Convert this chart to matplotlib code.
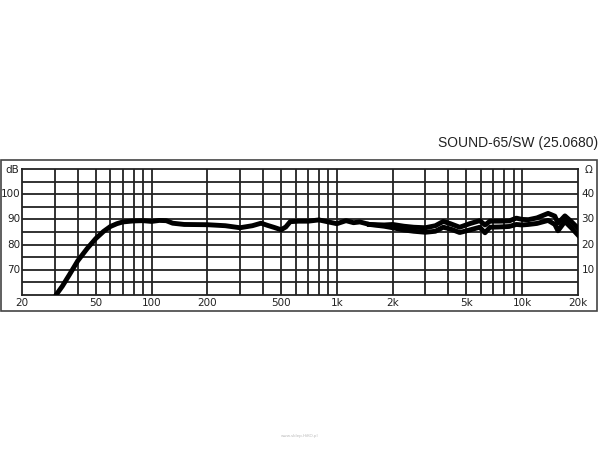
import numpy as np
import matplotlib
matplotlib.use("Agg")
import matplotlib.pyplot as plt
from matplotlib.patches import Rectangle

# frequency response, shared part (Hz / dB)
freq_low = [30.5, 33, 36, 40, 45, 50, 55, 60, 65, 70, 80, 90, 100, 110, 120, 130,
            150, 200, 250, 300, 350, 390, 420, 460, 500, 530, 560, 620, 700, 800,
            900, 1000, 1120, 1230, 1330, 1500]
spl_low = [60, 63.5, 68, 73.6, 78.5, 82.4, 85.2, 87.2, 88.3, 89.0, 89.4, 89.5, 89.2,
           89.6, 89.5, 88.5, 88.0, 87.9, 87.5, 86.7, 87.5, 88.5, 87.7, 86.8, 85.9,
           87.0, 89.1, 89.3, 89.3, 89.8, 89.0, 88.3, 89.5, 88.7, 89.0, 88.0]

# high range, two curves
freq_hi = [1500, 1800, 2000, 2300, 2600, 3000, 3400, 3750, 4100, 4600, 5200, 5900,
           6300, 6700, 7500, 8500, 9300, 10000, 10800, 12000, 13800, 15000, 15600,
           17000, 18500, 20000]
spl_upper = [88.0, 87.8, 88.0, 87.3, 86.9, 86.7, 87.5, 89.2, 88.3, 86.9, 88.3, 89.5,
             87.8, 89.3, 89.3, 89.4, 90.5, 90.0, 89.9, 90.6, 92.4, 91.3, 88.5, 91.4,
             89.0, 86.5]
spl_lower = [88.0, 87.3, 86.7, 85.8, 85.3, 84.9, 85.3, 86.9, 86.2, 84.8, 85.8, 86.9,
             84.7, 86.9, 87.0, 87.2, 88.0, 87.8, 88.0, 88.4, 89.6, 88.0, 85.5, 89.2,
             86.5, 83.8]

x_ticks = [20, 50, 100, 200, 500, 1000, 2000, 5000, 10000, 20000]
x_labels = ["20", "50", "100", "200", "500", "1k", "2k", "5k", "10k", "20k"]
db_ticks = [70, 80, 90, 100]
ohm_ticks = [10, 20, 30, 40]

fig = plt.figure(figsize=(6, 4.5), dpi=100)
ax = fig.add_axes([0.0367, 0.3444, 0.9266, 0.28])

# outer frame
fig.patches.append(Rectangle((0.002, 0.309), 0.993, 0.335, transform=fig.transFigure,
                             fill=False, edgecolor="#444444", linewidth=1.2))

ax.set_xscale("log")
ax.set_xlim(20, 20000)
ax.set_ylim(60, 110)

# grid
grid_x = [m * 10 ** d for d in range(1, 5) for m in range(1, 10)]
for gx in grid_x:
    if 20 < gx < 20000:
        ax.axvline(gx, color="#222222", lw=1.3, zorder=1)
for gy in range(65, 110, 5):
    ax.axhline(gy, color="#222222", lw=1.3, zorder=1)

ax.plot(freq_low, spl_low, color="black", lw=3.5, solid_capstyle="round", zorder=3)
ax.plot(freq_hi, spl_upper, color="black", lw=3.5, zorder=3)
ax.plot(freq_hi, spl_lower, color="black", lw=3.5, zorder=3)

ax.set_xticks([])
ax.set_yticks([])
ax.minorticks_off()
for s in ax.spines.values():
    s.set_color("#222222")
    s.set_linewidth(1.3)

lab = dict(fontsize=7.5, color="#222222", family="DejaVu Sans")
for t, l in zip(x_ticks, x_labels):
    ax.text(t, 56.8, l, ha="center", va="center", **lab)
for t in db_ticks:
    ax.text(-0.003, (t - 60) / 50, str(t), transform=ax.transAxes, ha="right", va="center", **lab)
ax.text(-0.006, 0.99, "dB", transform=ax.transAxes, ha="right", va="center", **lab)
for t, d in zip(ohm_ticks, db_ticks):
    ax.text(1.006, (d - 60) / 50, str(t), transform=ax.transAxes, ha="left", va="center", **lab)
ax.text(1.012, 0.99, "Ω", transform=ax.transAxes, ha="left", va="center", **lab)

fig.text(0.997, 0.682, "SOUND-65/SW (25.0680)", ha="right", va="center",
         fontsize=10, family="Liberation Sans", color="#222222")
fig.text(0.5, 0.03, "www.sklep.HiKO.pl", ha="center", va="center", fontsize=3,
         color="#bbbbbb")

fig.savefig("out.png", dpi=100)
